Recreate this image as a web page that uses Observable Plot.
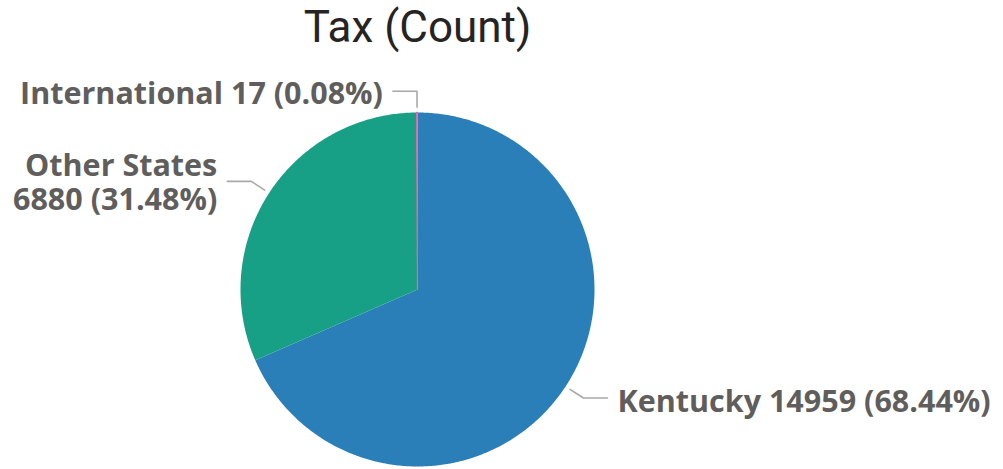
<!DOCTYPE html>
<html>
<head>
<meta charset="utf-8">
<script src="https://cdn.jsdelivr.net/npm/d3@7"></script>
<script src="https://cdn.jsdelivr.net/npm/@observablehq/plot@0.6"></script>
<style>
  html, body { margin: 0; padding: 0; background: #fff; }
</style>
</head>
<body>
<div id="chart"></div>
<script>
const categories = ["Kentucky", "Other States", "International"];
const counts = [14959, 6880, 17];
const percentLabels = ["68.44%", "31.48%", "0.08%"];
const colors = ["#2B7FB9", "#17A085", "#E066A8"];
const title = "Tax (Count)";

const pie = d3.pie().sort(null).value(d => d.count);
const rows = categories.map((c, i) => ({name: c, count: counts[i], pct: percentLabels[i], color: colors[i]}));
const arcs = pie(rows);

// slice outlines in unit coordinates (angle clockwise from 12 o'clock)
const slicePts = [];
arcs.forEach(a => {
  const n = Math.max(2, Math.ceil((a.endAngle - a.startAngle) / 0.01));
  slicePts.push({name: a.data.name, x: 0, y: 0});
  for (let k = 0; k <= n; k++) {
    const t = a.startAngle + (a.endAngle - a.startAngle) * k / n;
    slicePts.push({name: a.data.name, x: Math.sin(t), y: Math.cos(t)});
  }
});
// tiny slices get an outline so they stay visible
const thin = arcs.filter(a => a.endAngle - a.startAngle < 0.02).map(a => a.data.name);
const thinPts = slicePts.filter(p => thin.includes(p.name));

// leader lines & labels
const r1 = 1.03, r2 = 1.12, hLen = 0.136;
const leaders = [], labels = [];
arcs.forEach(a => {
  const m = (a.startAngle + a.endAngle) / 2;
  const sx = Math.sin(m), sy = Math.cos(m);
  const right = sx > 0.01;
  const p1 = {x: sx * r1, y: sy * r1};
  const p2 = {x: sx * r2, y: sy * r2};
  const p3 = {x: p2.x + (right ? hLen : -hLen), y: p2.y};
  [p1, p2, p3].forEach(p => leaders.push({name: a.data.name, ...p}));
  const d = a.data;
  if (d.name === "Other States") {
    labels.push({x: p3.x, y: p3.y, text: d.name, right, dy: -15});
    labels.push({x: p3.x, y: p3.y, text: `${d.count} (${d.pct})`, right, dy: 19});
  } else {
    labels.push({x: p3.x, y: p3.y, text: `${d.name} ${d.count} (${d.pct})`, right, dy: right ? 4 : 3});
  }
});

const labelStyle = {fontSize: 30.5, fontWeight: 700, fill: "#605E5C", fontFamily: "Open Sans", lineAnchor: "middle"};

const chart = Plot.plot({
  width: 1003,
  height: 469,
  marginLeft: 240,
  marginRight: 1003 - 594,
  marginTop: 112,
  marginBottom: 3,
  x: {domain: [-1, 1], axis: null},
  y: {domain: [-1, 1], axis: null},
  color: {domain: categories, range: colors},
  style: {background: "#fff", overflow: "visible"},
  marks: [
    Plot.line(slicePts, {x: "x", y: "y", z: "name", fill: "name", stroke: null, curve: "linear"}),
    Plot.line(thinPts, {x: "x", y: "y", z: "name", stroke: "name", strokeWidth: 1.3, curve: "linear"}),
    Plot.line(leaders, {x: "x", y: "y", z: "name", stroke: "#A8A8A8", strokeWidth: 1.6}),
    ...labels.map(l => Plot.text([l], {x: "x", y: "y", text: "text",
      textAnchor: l.right ? "start" : "end", dx: l.right ? 10 : -10, dy: l.dy, ...labelStyle})),
    Plot.text([title], {frameAnchor: "top", dy: -112 + 27, text: d => d, fontSize: 44, fill: "#252423",
      fontFamily: "Roboto", lineAnchor: "middle", dx: 417 - (240 + (594 - 240) / 2)})
  ]
});
document.getElementById("chart").appendChild(chart);
</script>
</body>
</html>
